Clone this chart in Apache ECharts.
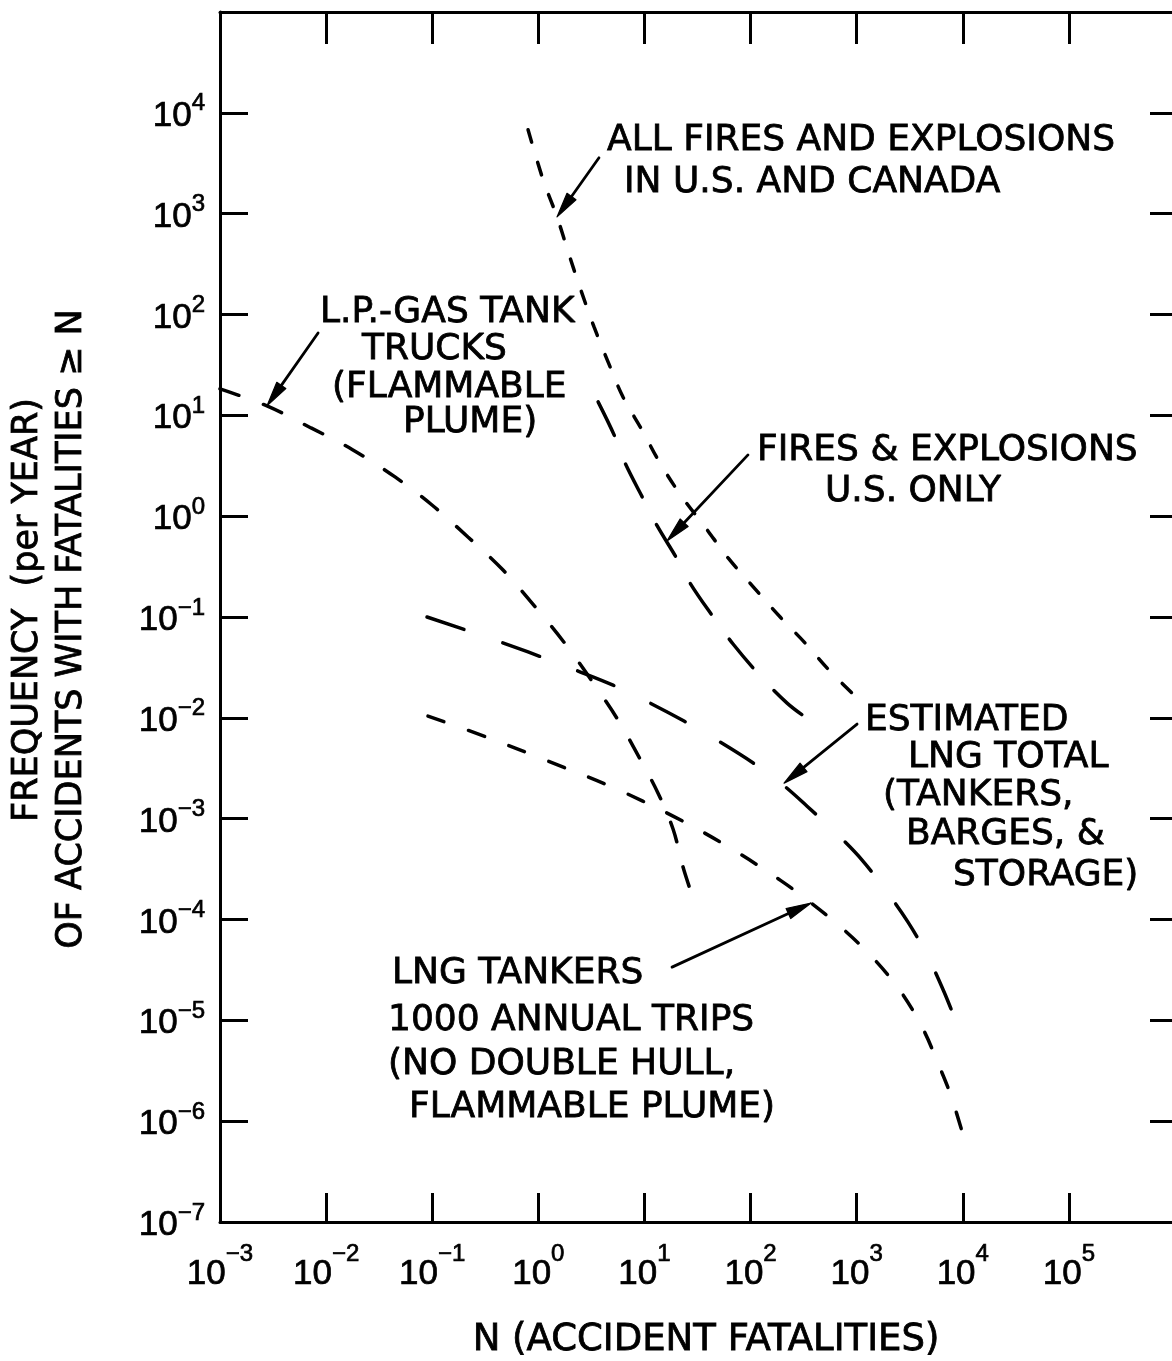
<!DOCTYPE html>
<html>
<head>
<meta charset="utf-8">
<title>Frequency of accidents with fatalities ≥ N</title>
<script src="https://cdn.jsdelivr.net/npm/echarts@6/dist/echarts.min.js"></script>
<style>
  html, body { margin: 0; padding: 0; background: #fff; }
  #chart { width: 1172px; height: 1361px; }
</style>
</head>
<body>
<div id="chart"></div>
<script>
// Decade exponents that carry a tick label on each axis
const xTickExponents = [-3, -2, -1, 0, 1, 2, 3, 4, 5];
const yTickExponents = [-7, -6, -5, -4, -3, -2, -1, 0, 1, 2, 3, 4];

// All fires and explosions in U.S. and Canada
const allFiresN = [0.80, 1.11, 1.50, 1.91, 2.42, 3.35, 4.54, 6.28, 9.48, 14.0, 22.6, 37.2, 61.4, 106, 194, 327, 537, 946];
const allFiresF = [6800, 2160, 929, 418, 197, 75.3, 33.9, 15.2, 7.16, 3.37, 1.55, 0.782, 0.385, 0.199, 0.0977, 0.0552, 0.0305, 0.0168];

// Fires & explosions, U.S. only
const usOnlyN = [3.66, 5.28, 6.56, 10.1, 13.2, 20.3, 26.9, 42.5, 68.4, 131, 221, 327, 472];
const usOnlyF = [13.6, 6.11, 3.37, 1.38, 0.80, 0.376, 0.217, 0.107, 0.054, 0.0243, 0.0140, 0.0102, 0.00793];

// Estimated LNG total (tankers, barges & storage)
const lngTotalN = [0.0893, 0.301, 0.800, 2.37, 5.06, 10.8, 23.6, 51.6, 106, 198, 341, 668, 1125, 1932, 3048, 4603, 6668, 9036];
const lngTotalF = [0.100, 0.0649, 0.0450, 0.0291, 0.0211, 0.01435, 0.00929, 0.00575, 0.00356, 0.00220, 0.00133, 0.000687, 0.000388, 0.000187, 0.0000942, 0.0000444, 0.0000191, 0.00000857];

// L.P.-gas tank trucks (flammable plume)
const lpGasN = [0.001, 0.00277, 0.00721, 0.0179, 0.0446, 0.0995, 0.217, 0.465, 0.973, 1.86, 3.35, 5.64, 8.89, 13.4, 18.6, 23.1, 26.9];
const lpGasF = [18.3, 12.4, 7.50, 4.54, 2.45, 1.29, 0.622, 0.292, 0.120, 0.0515, 0.0216, 0.00951, 0.00408, 0.00180, 0.000789, 0.000331, 0.000200];

// LNG tankers, 1000 annual trips (no double hull, flammable plume)
const lngTankersN = [0.0912, 0.343, 1.23, 4.95, 18.6, 60.0, 190, 372, 745, 1429, 2620, 4227, 5728, 7762, 10520];
const lngTankersF = [0.01042, 0.00631, 0.00373, 0.00206, 0.00106, 0.000535, 0.000246, 0.000146, 0.0000804, 0.0000414, 0.0000191, 0.00000818, 0.00000394, 0.00000177, 0.000000619];

// Leader arrows: tail near the caption, tip on the curve (N, frequency)
const arrowTails = [[3.73, 3581], [0.0084, 65.6], [94.6, 4.05], [1009, 0.00867], [18.2, 3.37e-5]];
const arrowTips  = [[1.50, 929], [0.00277, 12.4], [16.3, 0.568], [207, 0.00225], [372, 1.456e-4]];

const pairs = (xs, ys) => xs.map((x, i) => [x, ys[i]]);

const LABEL_FONT = 'Liberation Sans';
const TEXT_FONT = 'DejaVu Sans';

function expText(e) {
  return e < 0 ? '\u2212' + (-e) : String(e);
}
function decade(v) {
  return Math.round(Math.log10(v));
}

const axisLineStyle = { color: '#000', width: 3 };
const tickStyle = { color: '#000', width: 3 };
// a hair of outline gives the lettering its pen weight
const ink = { textBorderColor: '#000', textBorderWidth: 0.7 };

function curve(name, xs, ys, dash) {
  return {
    name: name,
    type: 'line',
    xAxisIndex: 0,
    yAxisIndex: 0,
    data: pairs(xs, ys),
    smooth: 0.35,
    showSymbol: false,
    symbol: 'none',
    silent: true,
    lineStyle: { color: '#000', width: 3.5, type: dash, cap: 'round' }
  };
}

function textStyle(text, size, align) {
  return {
    text: text,
    fontSize: size,
    fontFamily: TEXT_FONT,
    fill: '#000',
    stroke: '#000',
    lineWidth: 0.8,
    align: align,
    textAlign: align,
    verticalAlign: 'middle',
    textVerticalAlign: 'middle'
  };
}

function textLine(text, x, y) {
  return { type: 'text', x: x, y: y, silent: true, style: textStyle(text, 36, 'left') };
}

function tickRich(pad) {
  return {
    b: Object.assign({ fontSize: 35, fontFamily: LABEL_FONT, color: '#000', padding: pad.b }, ink),
    e: Object.assign({ fontSize: 24, fontFamily: LABEL_FONT, color: '#000', padding: pad.e }, ink)
  };
}

const chart = echarts.init(document.getElementById('chart'), null, { renderer: 'canvas' });

chart.setOption({
  backgroundColor: '#fff',
  animation: false,
  grid: { left: 220, top: 12, width: 955, height: 1210, containLabel: false, outerBoundsMode: 'none' },
  xAxis: [
    {
      type: 'log', logBase: 10, min: 1e-3, max: 1e6, interval: 1,
      position: 'bottom',
      axisLine: { show: true, onZero: false, lineStyle: axisLineStyle },
      axisTick: { show: true, inside: true, length: 29, lineStyle: tickStyle },
      minorTick: { show: false },
      splitLine: { show: false },
      axisLabel: {
        show: true, margin: 20, color: '#000',
        showMinLabel: true, showMaxLabel: true,
        formatter: function (v) {
          const e = decade(v);
          if (xTickExponents.indexOf(e) < 0) return '';
          return '{b|10}{e|' + expText(e) + '}';
        },
        rich: tickRich({ b: [0, 0, 0, 0], e: [0, 0, 40, 0] })
      }
    },
    {
      type: 'log', logBase: 10, min: 1e-3, max: 1e6, interval: 1,
      position: 'top',
      axisLine: { show: true, onZero: false, lineStyle: axisLineStyle },
      axisTick: { show: true, inside: true, length: 32, lineStyle: tickStyle },
      minorTick: { show: false },
      splitLine: { show: false },
      axisLabel: { show: false }
    }
  ],
  yAxis: [
    {
      type: 'log', logBase: 10, min: 1e-7, max: 1e5, interval: 1,
      position: 'left',
      axisLine: { show: true, onZero: false, lineStyle: axisLineStyle },
      axisTick: { show: true, inside: true, length: 28, lineStyle: tickStyle },
      minorTick: { show: false },
      splitLine: { show: false },
      axisLabel: {
        show: true, margin: 15, color: '#000',
        showMinLabel: true, showMaxLabel: true,
        formatter: function (v) {
          const e = decade(v);
          if (yTickExponents.indexOf(e) < 0) return '';
          return '{b|10}{e|' + expText(e) + '}';
        },
        rich: tickRich({ b: [7, 0, 0, 0], e: [0, 0, 18, 0] })
      }
    },
    {
      type: 'log', logBase: 10, min: 1e-7, max: 1e5, interval: 1,
      position: 'right',
      axisLine: { show: true, onZero: false, lineStyle: axisLineStyle },
      axisTick: { show: true, inside: true, length: 25, lineStyle: tickStyle },
      minorTick: { show: false },
      splitLine: { show: false },
      axisLabel: { show: false }
    }
  ],
  series: [
    curve('All fires and explosions in U.S. and Canada', allFiresN, allFiresF, [13, 21]),
    curve('Fires & explosions U.S. only', usOnlyN, usOnlyF, [37, 31]),
    curve('Estimated LNG total', lngTotalN, lngTotalF, [39, 41]),
    curve('L.P.-gas tank trucks', lpGasN, lpGasF, [20, 26]),
    curve('LNG tankers', lngTankersN, lngTankersF, [17, 26]),
    {
      name: 'leaders',
      type: 'custom',
      xAxisIndex: 0,
      yAxisIndex: 0,
      silent: true,
      clip: false,
      data: arrowTails.map((t, i) => [t[0], t[1], arrowTips[i][0], arrowTips[i][1]]),
      encode: { x: [0, 2], y: [1, 3] },
      renderItem: function (params, api) {
        const a = api.coord([api.value(0), api.value(1)]);
        const b = api.coord([api.value(2), api.value(3)]);
        const dx = b[0] - a[0], dy = b[1] - a[1];
        const len = Math.sqrt(dx * dx + dy * dy);
        const ux = dx / len, uy = dy / len;
        const headLen = 25, headHalf = 5.5;
        const hx = b[0] - ux * headLen, hy = b[1] - uy * headLen;
        return {
          type: 'group',
          children: [
            {
              type: 'line',
              shape: { x1: a[0], y1: a[1], x2: hx + ux * 3, y2: hy + uy * 3 },
              style: { stroke: '#000', lineWidth: 2.8, lineCap: 'round' }
            },
            {
              type: 'polygon',
              shape: { points: [[b[0], b[1]], [hx - uy * headHalf, hy + ux * headHalf], [hx + uy * headHalf, hy - ux * headHalf]] },
              style: { fill: '#000', stroke: '#000', lineWidth: 1.2, lineJoin: 'round' }
            }
          ]
        };
      }
    }
  ],
  graphic: [
    // axis titles
    { type: 'text', x: 28, y: 610, rotation: Math.PI / 2, silent: true,
      style: textStyle('FREQUENCY  (per YEAR)', 35, 'center') },
    { type: 'text', x: 72, y: 629, rotation: Math.PI / 2, silent: true,
      style: textStyle('OF ACCIDENTS WITH FATALITIES \u2265 N', 35, 'center') },
    { type: 'text', x: 706, y: 1340, silent: true,
      style: textStyle('N (ACCIDENT FATALITIES)', 37, 'center') },
    // curve captions
    textLine('ALL FIRES AND EXPLOSIONS', 607, 141),
    textLine('IN U.S. AND CANADA', 624, 183),
    textLine('L.P.-GAS TANK', 320, 313),
    textLine('TRUCKS', 362, 350),
    textLine('(FLAMMABLE', 332, 388),
    textLine('PLUME)', 403, 423),
    textLine('FIRES & EXPLOSIONS', 757, 451),
    textLine('U.S. ONLY', 825, 492),
    textLine('ESTIMATED', 865, 721),
    textLine('LNG TOTAL', 908, 758),
    textLine('(TANKERS,', 883, 796),
    textLine('BARGES, &', 906, 835),
    textLine('STORAGE)', 953, 876),
    textLine('LNG TANKERS', 392, 974),
    textLine('1000 ANNUAL TRIPS', 388, 1021),
    textLine('(NO DOUBLE HULL,', 388, 1065),
    textLine('FLAMMABLE PLUME)', 409, 1108)
  ]
});
</script>
</body>
</html>
